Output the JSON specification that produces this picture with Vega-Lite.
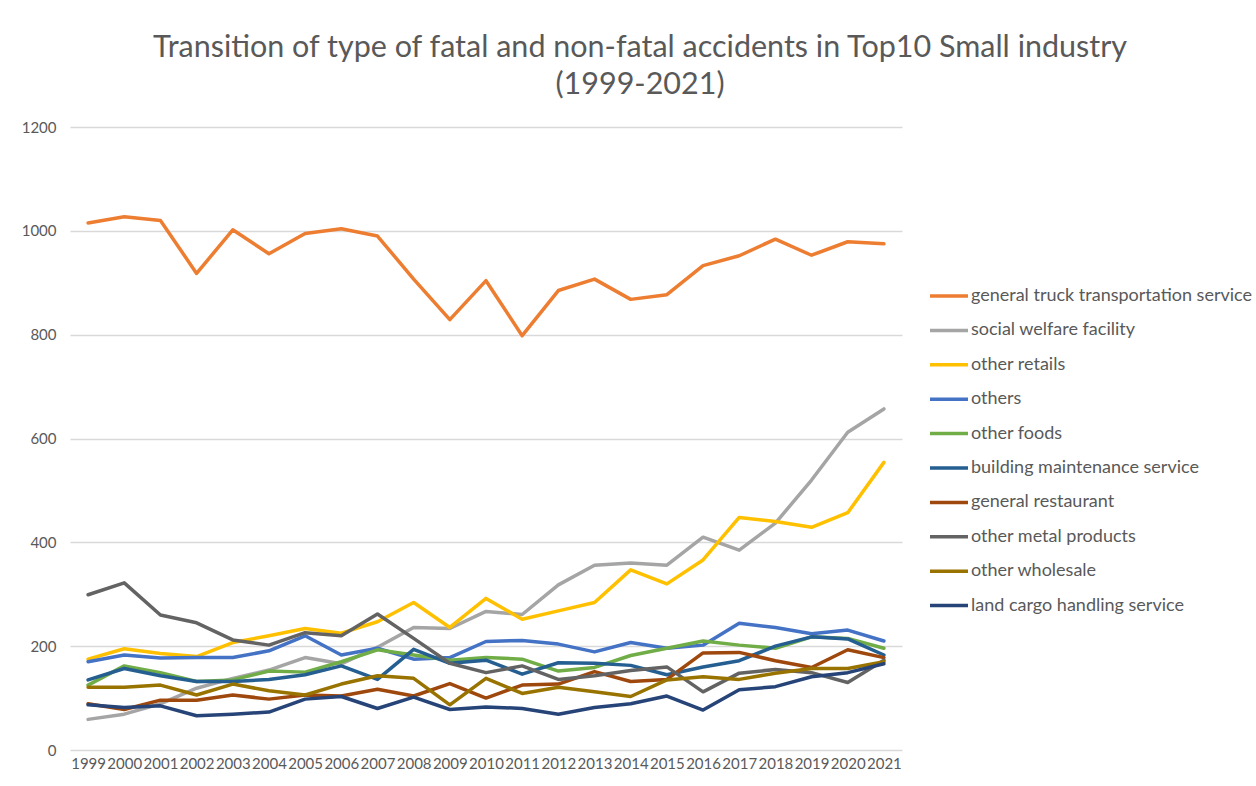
{
  "$schema": "https://vega.github.io/schema/vega-lite/v6.json",
  "autosize": {"type": "none"},
  "width": 832,
  "height": 623,
  "padding": {"left": 70, "top": 127, "right": 354, "bottom": 36},
  "background": "white",
  "title": {
    "text": ["Transition of type of fatal and non-fatal accidents in Top10 Small industry", "(1999-2021)"],
    "font": "Lato",
    "fontSize": 30.5,
    "fontWeight": "normal",
    "color": "#595959",
    "anchor": "middle",
    "dx": 154,
    "offset": 20,
    "lineHeight": 37,
    "limit": 1250
  },
  "data": {
    "values": [
      {"year":1999,"industry":"general truck transportation service","value":1015},
      {"year":2000,"industry":"general truck transportation service","value":1027},
      {"year":2001,"industry":"general truck transportation service","value":1020},
      {"year":2002,"industry":"general truck transportation service","value":918},
      {"year":2003,"industry":"general truck transportation service","value":1002},
      {"year":2004,"industry":"general truck transportation service","value":956},
      {"year":2005,"industry":"general truck transportation service","value":995},
      {"year":2006,"industry":"general truck transportation service","value":1004},
      {"year":2007,"industry":"general truck transportation service","value":990},
      {"year":2008,"industry":"general truck transportation service","value":907},
      {"year":2009,"industry":"general truck transportation service","value":829},
      {"year":2010,"industry":"general truck transportation service","value":904},
      {"year":2011,"industry":"general truck transportation service","value":798},
      {"year":2012,"industry":"general truck transportation service","value":885},
      {"year":2013,"industry":"general truck transportation service","value":907},
      {"year":2014,"industry":"general truck transportation service","value":868},
      {"year":2015,"industry":"general truck transportation service","value":877},
      {"year":2016,"industry":"general truck transportation service","value":933},
      {"year":2017,"industry":"general truck transportation service","value":952},
      {"year":2018,"industry":"general truck transportation service","value":984},
      {"year":2019,"industry":"general truck transportation service","value":953},
      {"year":2020,"industry":"general truck transportation service","value":979},
      {"year":2021,"industry":"general truck transportation service","value":975},

      {"year":1999,"industry":"social welfare facility","value":59},
      {"year":2000,"industry":"social welfare facility","value":69},
      {"year":2001,"industry":"social welfare facility","value":89},
      {"year":2002,"industry":"social welfare facility","value":119},
      {"year":2003,"industry":"social welfare facility","value":138},
      {"year":2004,"industry":"social welfare facility","value":154},
      {"year":2005,"industry":"social welfare facility","value":178},
      {"year":2006,"industry":"social welfare facility","value":166},
      {"year":2007,"industry":"social welfare facility","value":198},
      {"year":2008,"industry":"social welfare facility","value":236},
      {"year":2009,"industry":"social welfare facility","value":234},
      {"year":2010,"industry":"social welfare facility","value":267},
      {"year":2011,"industry":"social welfare facility","value":261},
      {"year":2012,"industry":"social welfare facility","value":318},
      {"year":2013,"industry":"social welfare facility","value":356},
      {"year":2014,"industry":"social welfare facility","value":360},
      {"year":2015,"industry":"social welfare facility","value":356},
      {"year":2016,"industry":"social welfare facility","value":410},
      {"year":2017,"industry":"social welfare facility","value":385},
      {"year":2018,"industry":"social welfare facility","value":437},
      {"year":2019,"industry":"social welfare facility","value":520},
      {"year":2020,"industry":"social welfare facility","value":612},
      {"year":2021,"industry":"social welfare facility","value":657},

      {"year":1999,"industry":"other retails","value":175},
      {"year":2000,"industry":"other retails","value":195},
      {"year":2001,"industry":"other retails","value":186},
      {"year":2002,"industry":"other retails","value":180},
      {"year":2003,"industry":"other retails","value":207},
      {"year":2004,"industry":"other retails","value":220},
      {"year":2005,"industry":"other retails","value":234},
      {"year":2006,"industry":"other retails","value":225},
      {"year":2007,"industry":"other retails","value":247},
      {"year":2008,"industry":"other retails","value":284},
      {"year":2009,"industry":"other retails","value":236},
      {"year":2010,"industry":"other retails","value":292},
      {"year":2011,"industry":"other retails","value":252},
      {"year":2012,"industry":"other retails","value":268},
      {"year":2013,"industry":"other retails","value":284},
      {"year":2014,"industry":"other retails","value":347},
      {"year":2015,"industry":"other retails","value":320},
      {"year":2016,"industry":"other retails","value":366},
      {"year":2017,"industry":"other retails","value":448},
      {"year":2018,"industry":"other retails","value":440},
      {"year":2019,"industry":"other retails","value":429},
      {"year":2020,"industry":"other retails","value":457},
      {"year":2021,"industry":"other retails","value":554},

      {"year":1999,"industry":"others","value":170},
      {"year":2000,"industry":"others","value":183},
      {"year":2001,"industry":"others","value":177},
      {"year":2002,"industry":"others","value":178},
      {"year":2003,"industry":"others","value":178},
      {"year":2004,"industry":"others","value":191},
      {"year":2005,"industry":"others","value":220},
      {"year":2006,"industry":"others","value":183},
      {"year":2007,"industry":"others","value":196},
      {"year":2008,"industry":"others","value":175},
      {"year":2009,"industry":"others","value":178},
      {"year":2010,"industry":"others","value":209},
      {"year":2011,"industry":"others","value":211},
      {"year":2012,"industry":"others","value":204},
      {"year":2013,"industry":"others","value":189},
      {"year":2014,"industry":"others","value":207},
      {"year":2015,"industry":"others","value":196},
      {"year":2016,"industry":"others","value":202},
      {"year":2017,"industry":"others","value":244},
      {"year":2018,"industry":"others","value":236},
      {"year":2019,"industry":"others","value":224},
      {"year":2020,"industry":"others","value":231},
      {"year":2021,"industry":"others","value":210},

      {"year":1999,"industry":"other foods","value":125},
      {"year":2000,"industry":"other foods","value":162},
      {"year":2001,"industry":"other foods","value":149},
      {"year":2002,"industry":"other foods","value":132},
      {"year":2003,"industry":"other foods","value":135},
      {"year":2004,"industry":"other foods","value":152},
      {"year":2005,"industry":"other foods","value":150},
      {"year":2006,"industry":"other foods","value":170},
      {"year":2007,"industry":"other foods","value":193},
      {"year":2008,"industry":"other foods","value":183},
      {"year":2009,"industry":"other foods","value":173},
      {"year":2010,"industry":"other foods","value":178},
      {"year":2011,"industry":"other foods","value":175},
      {"year":2012,"industry":"other foods","value":152},
      {"year":2013,"industry":"other foods","value":159},
      {"year":2014,"industry":"other foods","value":182},
      {"year":2015,"industry":"other foods","value":196},
      {"year":2016,"industry":"other foods","value":210},
      {"year":2017,"industry":"other foods","value":202},
      {"year":2018,"industry":"other foods","value":196},
      {"year":2019,"industry":"other foods","value":218},
      {"year":2020,"industry":"other foods","value":215},
      {"year":2021,"industry":"other foods","value":196},

      {"year":1999,"industry":"building maintenance service","value":135},
      {"year":2000,"industry":"building maintenance service","value":157},
      {"year":2001,"industry":"building maintenance service","value":143},
      {"year":2002,"industry":"building maintenance service","value":132},
      {"year":2003,"industry":"building maintenance service","value":132},
      {"year":2004,"industry":"building maintenance service","value":136},
      {"year":2005,"industry":"building maintenance service","value":145},
      {"year":2006,"industry":"building maintenance service","value":162},
      {"year":2007,"industry":"building maintenance service","value":136},
      {"year":2008,"industry":"building maintenance service","value":194},
      {"year":2009,"industry":"building maintenance service","value":167},
      {"year":2010,"industry":"building maintenance service","value":173},
      {"year":2011,"industry":"building maintenance service","value":146},
      {"year":2012,"industry":"building maintenance service","value":168},
      {"year":2013,"industry":"building maintenance service","value":167},
      {"year":2014,"industry":"building maintenance service","value":163},
      {"year":2015,"industry":"building maintenance service","value":145},
      {"year":2016,"industry":"building maintenance service","value":160},
      {"year":2017,"industry":"building maintenance service","value":172},
      {"year":2018,"industry":"building maintenance service","value":200},
      {"year":2019,"industry":"building maintenance service","value":218},
      {"year":2020,"industry":"building maintenance service","value":214},
      {"year":2021,"industry":"building maintenance service","value":183},

      {"year":1999,"industry":"general restaurant","value":89},
      {"year":2000,"industry":"general restaurant","value":78},
      {"year":2001,"industry":"general restaurant","value":96},
      {"year":2002,"industry":"general restaurant","value":96},
      {"year":2003,"industry":"general restaurant","value":106},
      {"year":2004,"industry":"general restaurant","value":98},
      {"year":2005,"industry":"general restaurant","value":106},
      {"year":2006,"industry":"general restaurant","value":104},
      {"year":2007,"industry":"general restaurant","value":117},
      {"year":2008,"industry":"general restaurant","value":104},
      {"year":2009,"industry":"general restaurant","value":128},
      {"year":2010,"industry":"general restaurant","value":100},
      {"year":2011,"industry":"general restaurant","value":125},
      {"year":2012,"industry":"general restaurant","value":127},
      {"year":2013,"industry":"general restaurant","value":151},
      {"year":2014,"industry":"general restaurant","value":132},
      {"year":2015,"industry":"general restaurant","value":136},
      {"year":2016,"industry":"general restaurant","value":187},
      {"year":2017,"industry":"general restaurant","value":188},
      {"year":2018,"industry":"general restaurant","value":172},
      {"year":2019,"industry":"general restaurant","value":159},
      {"year":2020,"industry":"general restaurant","value":193},
      {"year":2021,"industry":"general restaurant","value":178},

      {"year":1999,"industry":"other metal products","value":299},
      {"year":2000,"industry":"other metal products","value":322},
      {"year":2001,"industry":"other metal products","value":260},
      {"year":2002,"industry":"other metal products","value":245},
      {"year":2003,"industry":"other metal products","value":212},
      {"year":2004,"industry":"other metal products","value":202},
      {"year":2005,"industry":"other metal products","value":226},
      {"year":2006,"industry":"other metal products","value":220},
      {"year":2007,"industry":"other metal products","value":262},
      {"year":2008,"industry":"other metal products","value":215},
      {"year":2009,"industry":"other metal products","value":167},
      {"year":2010,"industry":"other metal products","value":149},
      {"year":2011,"industry":"other metal products","value":162},
      {"year":2012,"industry":"other metal products","value":136},
      {"year":2013,"industry":"other metal products","value":143},
      {"year":2014,"industry":"other metal products","value":153},
      {"year":2015,"industry":"other metal products","value":160},
      {"year":2016,"industry":"other metal products","value":112},
      {"year":2017,"industry":"other metal products","value":148},
      {"year":2018,"industry":"other metal products","value":155},
      {"year":2019,"industry":"other metal products","value":149},
      {"year":2020,"industry":"other metal products","value":130},
      {"year":2021,"industry":"other metal products","value":173},

      {"year":1999,"industry":"other wholesale","value":121},
      {"year":2000,"industry":"other wholesale","value":121},
      {"year":2001,"industry":"other wholesale","value":125},
      {"year":2002,"industry":"other wholesale","value":106},
      {"year":2003,"industry":"other wholesale","value":127},
      {"year":2004,"industry":"other wholesale","value":114},
      {"year":2005,"industry":"other wholesale","value":106},
      {"year":2006,"industry":"other wholesale","value":127},
      {"year":2007,"industry":"other wholesale","value":143},
      {"year":2008,"industry":"other wholesale","value":138},
      {"year":2009,"industry":"other wholesale","value":87},
      {"year":2010,"industry":"other wholesale","value":138},
      {"year":2011,"industry":"other wholesale","value":109},
      {"year":2012,"industry":"other wholesale","value":121},
      {"year":2013,"industry":"other wholesale","value":112},
      {"year":2014,"industry":"other wholesale","value":103},
      {"year":2015,"industry":"other wholesale","value":135},
      {"year":2016,"industry":"other wholesale","value":141},
      {"year":2017,"industry":"other wholesale","value":136},
      {"year":2018,"industry":"other wholesale","value":148},
      {"year":2019,"industry":"other wholesale","value":157},
      {"year":2020,"industry":"other wholesale","value":157},
      {"year":2021,"industry":"other wholesale","value":170},

      {"year":1999,"industry":"land cargo handling service","value":87},
      {"year":2000,"industry":"land cargo handling service","value":82},
      {"year":2001,"industry":"land cargo handling service","value":85},
      {"year":2002,"industry":"land cargo handling service","value":66},
      {"year":2003,"industry":"land cargo handling service","value":69},
      {"year":2004,"industry":"land cargo handling service","value":73},
      {"year":2005,"industry":"land cargo handling service","value":98},
      {"year":2006,"industry":"land cargo handling service","value":103},
      {"year":2007,"industry":"land cargo handling service","value":80},
      {"year":2008,"industry":"land cargo handling service","value":102},
      {"year":2009,"industry":"land cargo handling service","value":78},
      {"year":2010,"industry":"land cargo handling service","value":83},
      {"year":2011,"industry":"land cargo handling service","value":80},
      {"year":2012,"industry":"land cargo handling service","value":69},
      {"year":2013,"industry":"land cargo handling service","value":82},
      {"year":2014,"industry":"land cargo handling service","value":89},
      {"year":2015,"industry":"land cargo handling service","value":104},
      {"year":2016,"industry":"land cargo handling service","value":77},
      {"year":2017,"industry":"land cargo handling service","value":116},
      {"year":2018,"industry":"land cargo handling service","value":122},
      {"year":2019,"industry":"land cargo handling service","value":141},
      {"year":2020,"industry":"land cargo handling service","value":149},
      {"year":2021,"industry":"land cargo handling service","value":166}
    ]
  },
  "mark": {"type": "line", "strokeWidth": 3.5, "strokeJoin": "round", "strokeCap": "round"},
  "encoding": {
    "x": {
      "field": "year",
      "type": "ordinal",
      "scale": {"type": "point", "padding": 0.5},
      "axis": {
        "title": null,
        "labelAngle": 0,
        "labelFont": "Lato",
        "labelFontSize": 15,
        "labelColor": "#595959",
        "labelPadding": 6,
        "domain": false,
        "ticks": false,
        "grid": false
      }
    },
    "y": {
      "field": "value",
      "type": "quantitative",
      "scale": {"domain": [0, 1200], "nice": false},
      "axis": {
        "title": null,
        "values": [0, 200, 400, 600, 800, 1000, 1200],
        "format": "d",
        "labelFont": "Lato",
        "labelFontSize": 15,
        "labelColor": "#595959",
        "labelPadding": 14,
        "domain": false,
        "ticks": false,
        "grid": true,
        "gridColor": "#D9D9D9",
        "gridWidth": 1.5
      }
    },
    "color": {
      "field": "industry",
      "type": "nominal",
      "scale": {
        "domain": ["general truck transportation service", "social welfare facility", "other retails", "others", "other foods", "building maintenance service", "general restaurant", "other metal products", "other wholesale", "land cargo handling service"],
        "range": ["#ED7D31", "#A5A5A5", "#FFC000", "#4472C4", "#70AD47", "#255E91", "#9E480E", "#636363", "#997300", "#264478"]
      },
      "legend": {
        "title": null,
        "orient": "none",
        "legendX": 858,
        "legendY": 148,
        "symbolType": "stroke",
        "symbolSize": 1444,
        "symbolStrokeWidth": 3.5,
        "labelFont": "Lato",
        "labelFontSize": 18,
        "labelColor": "#595959",
        "labelOffset": 1,
        "labelLimit": 400,
        "rowPadding": 4.4
      }
    }
  },
  "config": {"view": {"stroke": null}}
}
